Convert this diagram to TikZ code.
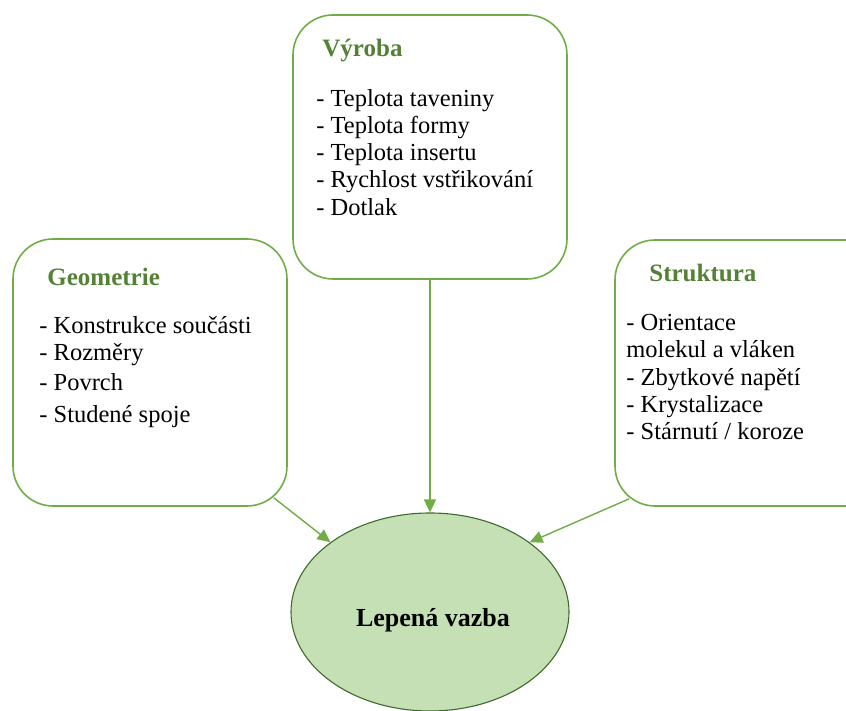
\documentclass[tikz,border=0pt]{standalone}
\usepackage{fontspec}
\setmainfont{Liberation Serif}
\usepackage{xcolor}
\usetikzlibrary{positioning,arrows.meta,calc,shapes.geometric}

\definecolor{boxgreen}{HTML}{70AD47}
\definecolor{titlegreen}{HTML}{538135}
\definecolor{bondfill}{HTML}{C5E0B4}
\definecolor{bonddraw}{HTML}{3F6A2C}

\tikzset{
    factor/.style={draw=boxgreen, line width=1.6pt, rounded corners=40pt,
        minimum width=274pt, inner sep=0pt},
    heading/.style={font=\fontsize{25pt}{28pt}\selectfont\bfseries,
        text=titlegreen, anchor=base west, inner sep=0pt},
    items/.style={align=left, anchor=north west, inner sep=0pt},
    link/.style={draw=boxgreen, line width=1.4pt,
        -{Triangle[length=13pt,width=12pt]}}
}

\begin{document}
\begin{tikzpicture}[
    x=1pt, y=1pt,
    font=\fontsize{24.5pt}{27.2pt}\selectfont
]
\path[use as bounding box, clip] (0,0) rectangle (846,711);

% Factor boxes
\node[factor, minimum height=264pt] (vyr) at (430,564) {};
\node[factor, minimum height=267pt] (geo) at (150,338.5) {};
\node[factor, minimum height=266pt] (str) at (752,338) {};

% Result
\node[
    ellipse,
    draw=bonddraw,
    line width=1.1pt,
    fill=bondfill,
    minimum width=278pt,
    minimum height=198pt
] (bond) at (430,99) {};
\node[anchor=base, font=\fontsize{26pt}{29pt}\selectfont\bfseries]
    (bondlabel) at ([shift={(3,-15)}]bond.center) {Lepená vazba};

% Texts
\node[heading] (vyrtitle) at ($(vyr.north west)+(30,-42.7)$) {Výroba};
\node[items] (vyrlist) at ($(vyr.north west)+(24,-75)$)
    {- Teplota taveniny\\- Teplota formy\\- Teplota insertu\\
     - Rychlost vstřikování\\- Dotlak};

\node[heading] (geotitle) at ($(geo.north west)+(35,-47.7)$) {Geometrie};
\node[items] (geolist) at ($(geo.north west)+(27,-78)$)
    {- Konstrukce součásti\\- Rozměry\\[3pt]- Povrch\\[4.5pt]- Studené spoje};

\node[heading] (strtitle) at ($(str.north west)+(35,-42.7)$) {Struktura};
\node[items] (strlist) at ($(str.north west)+(12,-75)$)
    {- Orientace\\molekul a vláken\\- Zbytkové napětí\\- Krystalizace\\
     - Stárnutí / koroze};

% Connections
\draw[link] (vyr.south) -- (bond.north);
\draw[link] ($(geo.south east)+(-14,9)$) -- (bond.145);
\draw[link] ($(str.south west)+(15,8)$) -- (bond.35);

\end{tikzpicture}
\end{document}
